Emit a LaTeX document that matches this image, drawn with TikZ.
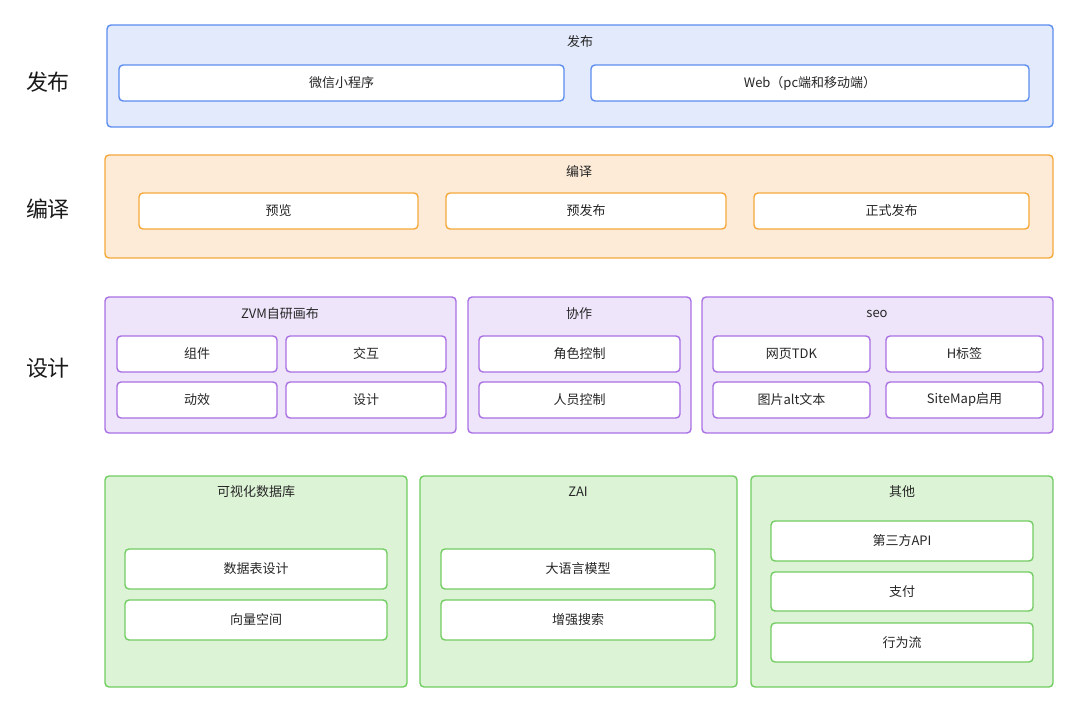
\documentclass[tikz,border=0pt]{standalone}
\usepackage{fontspec}
\setmainfont{Noto Sans CJK SC}
\definecolor{pubfill}{HTML}{E3EAFB}\definecolor{publine}{HTML}{5B8DEF}
\definecolor{cmpfill}{HTML}{FDEBD8}\definecolor{cmpline}{HTML}{F5A83A}
\definecolor{desfill}{HTML}{EEE5FA}\definecolor{desline}{HTML}{A970E3}
\definecolor{basfill}{HTML}{DDF3D6}\definecolor{basline}{HTML}{72CC62}
\tikzset{
  layer/.style={rounded corners=4pt, line width=1.4pt},
  item/.style={rounded corners=4pt, line width=1.4pt, fill=white},
  small/.style={font=\fontsize{13}{15}\selectfont, text=black!85},
  side/.style={font=\fontsize{22}{26}\selectfont, text=black!90}
}
% box from (x1,y1) to (x2,y2), style, name, text
\newcommand{\blk}[7]{%
  \draw[#5] (#1,#2) rectangle (#3,#4);
  \node[small] (#6) at ({(#1+#3)/2},{(#2+#4)/2}) {#7};}
\newcommand{\ttl}[4]{\node[small] (#1) at ({(#2+#3)/2},#4) {#1};}
\begin{document}
\begin{tikzpicture}[x=1pt,y=-1pt]
\useasboundingbox (0,0) rectangle (1080,714);

% labels
\node[side] (lpub) at (48,82) {发布};
\node[side] (lcmp) at (48,209) {编译};
\node[side] (ldes) at (48,368) {设计};

% publish
\draw[layer, draw=publine, fill=pubfill] (107,25) rectangle (1053,127);
\node[small] (tpub) at (580,42) {发布};
\blk{119}{65}{564}{101}{item, draw=publine}{wx}{微信小程序}
\blk{591}{65}{1029}{101}{item, draw=publine}{web}{Web（pc端和移动端）}

% compile
\draw[layer, draw=cmpline, fill=cmpfill] (105,155) rectangle (1053,258);
\node[small] (tcmp) at (579,172) {编译};
\blk{139}{193}{418}{229}{item, draw=cmpline}{pre}{预览}
\blk{446}{193}{726}{229}{item, draw=cmpline}{prepub}{预发布}
\blk{754}{193}{1029}{229}{item, draw=cmpline}{rel}{正式发布}

% design
\draw[layer, draw=desline, fill=desfill] (105,297) rectangle (456,433);
\draw[layer, draw=desline, fill=desfill] (468,297) rectangle (691,433);
\draw[layer, draw=desline, fill=desfill] (702,297) rectangle (1053,433);
\node[small] (tzvm) at (280,314) {ZVM自研画布};
\node[small] (tco) at (579,314) {协作};
\node[small] (tseo) at (877,314) {seo};
\blk{117}{336}{277}{372}{item, draw=desline}{zj}{组件}
\blk{286}{336}{446}{372}{item, draw=desline}{jh}{交互}
\blk{117}{382}{277}{418}{item, draw=desline}{dx}{动效}
\blk{286}{382}{446}{418}{item, draw=desline}{sj}{设计}
\blk{479}{336}{680}{372}{item, draw=desline}{js}{角色控制}
\blk{479}{382}{680}{418}{item, draw=desline}{ry}{人员控制}
\blk{713}{336}{870}{372}{item, draw=desline}{tdk}{网页TDK}
\blk{886}{336}{1043}{372}{item, draw=desline}{hbq}{H标签}
\blk{713}{382}{870}{418}{item, draw=desline}{alt}{图片alt文本}
\blk{886}{382}{1043}{418}{item, draw=desline}{smap}{SiteMap启用}

% base
\draw[layer, draw=basline, fill=basfill] (105,476) rectangle (407,687);
\draw[layer, draw=basline, fill=basfill] (420,476) rectangle (737,687);
\draw[layer, draw=basline, fill=basfill] (751,476) rectangle (1053,687);
\node[small] (tdb) at (256,492) {可视化数据库};
\node[small] (tzai) at (578,492) {ZAI};
\node[small] (toth) at (902,492) {其他};
\blk{125}{549}{387}{589}{item, draw=basline}{sjb}{数据表设计}
\blk{125}{600}{387}{640}{item, draw=basline}{xl}{向量空间}
\blk{441}{549}{715}{589}{item, draw=basline}{llm}{大语言模型}
\blk{441}{600}{715}{640}{item, draw=basline}{ss}{增强搜索}
\blk{771}{521}{1033}{561}{item, draw=basline}{api}{第三方API}
\blk{771}{572}{1033}{611}{item, draw=basline}{pay}{支付}
\blk{771}{623}{1033}{662}{item, draw=basline}{flow}{行为流}
\end{tikzpicture}
\end{document}
